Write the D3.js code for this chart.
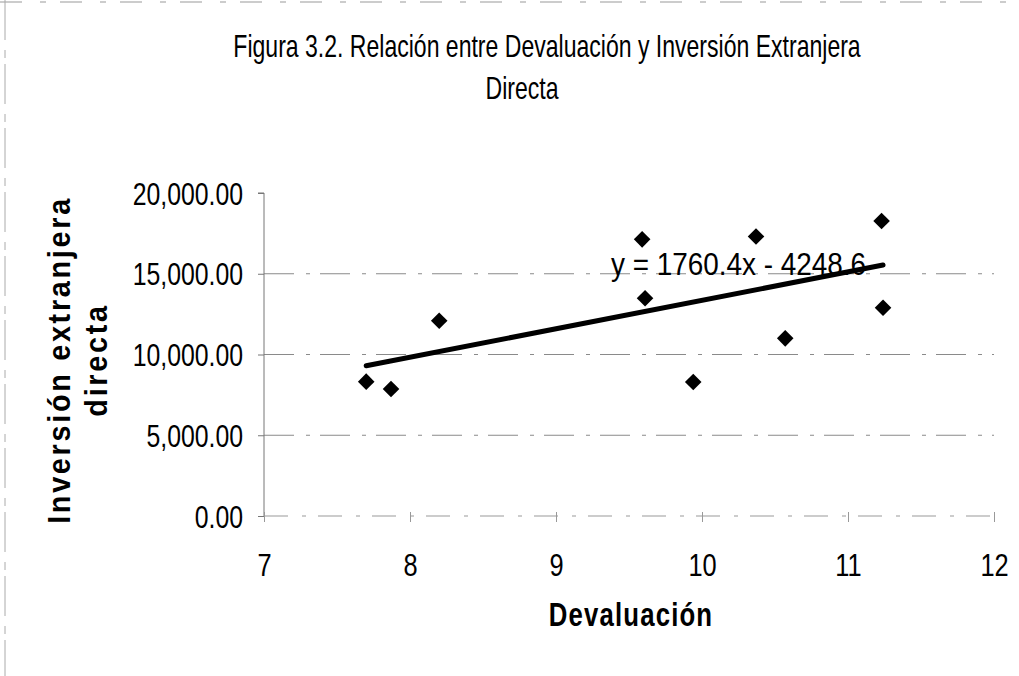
<!DOCTYPE html>
<html>
<head>
<meta charset="utf-8">
<script src="https://cdn.jsdelivr.net/npm/d3@7"></script>
<style>
  html, body { margin: 0; padding: 0; background: #fff; }
  svg { display: block; }
  text { fill: #000; }
</style>
</head>
<body>
<div id="chart"></div>
<script>
// data
const devaluacion = [7.70, 7.87, 8.20, 9.59, 9.61, 9.94, 10.37, 10.57, 11.23, 11.24];
const inversion   = [8320, 7860, 12090, 17130, 13480, 8300, 17310, 11000, 18270, 12900];
const xTicks = [7, 8, 9, 10, 11, 12];
const yTicks = [0, 5000, 10000, 15000, 20000];
const slope = 1760.4, intercept = -4248.6;
const titleLines = ["Figura 3.2. Relación entre Devaluación y Inversión Extranjera", "Directa"];
const yTitleLines = ["Inversión extranjera", "directa"];
const xTitle = "Devaluación";

const width = 1019, height = 676;
const font = "'Liberation Sans Narrow', 'Arial Narrow', 'Liberation Sans', Arial, sans-serif";

const svg = d3.select("#chart").append("svg")
    .attr("width", width).attr("height", height)
    .attr("viewBox", [0, 0, width, height]);

const x = d3.scaleLinear().domain([7, 12]).range([264, 994]);
const y = d3.scaleLinear().domain([0, 20000]).range([516, 193]);

// condensed text: draw at (px,py) squeezed horizontally
function label(parent, px, py, str, size, sx, anchor, bold) {
  return parent.append("text")
      .attr("transform", `translate(${px},${py}) scale(${sx},1)`)
      .attr("text-anchor", anchor || "start")
      .attr("font-family", font).attr("font-size", size)
      .attr("font-weight", bold ? "bold" : "normal")
      .text(str);
}

// scanned frame edges
svg.append("line").attr("x1", 0).attr("x2", width).attr("y1", 2).attr("y2", 2)
   .attr("stroke", "#999").attr("stroke-width", 1).attr("stroke-dasharray", "22,18,6,14");
svg.append("line").attr("x1", 5).attr("x2", 5).attr("y1", 0).attr("y2", height)
   .attr("stroke", "#aaa").attr("stroke-width", 1).attr("stroke-dasharray", "40,10,8,6");

// title
label(svg, 547, 57, titleLines[0], 32, 0.72, "middle");
label(svg, 522, 99, titleLines[1], 32, 0.72, "middle");

// gridlines
svg.append("g").selectAll("line").data(yTicks.filter(d => d > 0 && d < 20000)).join("line")
    .attr("x1", x(7)).attr("x2", x(12))
    .attr("y1", d => y(d)).attr("y2", d => y(d))
    .attr("stroke", "#8a8a8a").attr("stroke-width", 1)
    .attr("stroke-dasharray", "30,12,4,10");

// y axis
const yAxis = svg.append("g")
    .attr("transform", `translate(${x(7)},0)`)
    .call(d3.axisLeft(y).tickValues(yTicks).tickSize(6).tickFormat(d3.format(",.2f")));
yAxis.select(".domain").attr("stroke", "#777").attr("d", `M-6,${y(20000)}H0V${y(0)}`);
yAxis.selectAll(".tick line").attr("stroke", "#777");
yAxis.selectAll(".tick text")
    .attr("x", null).attr("dy", null)
    .attr("transform", "translate(-21,11) scale(0.8,1)")
    .attr("font-family", font).attr("font-size", 31).attr("fill", "#000");

// x axis
const xAxis = svg.append("g")
    .attr("transform", `translate(0,${y(0)})`)
    .call(d3.axisBottom(x).tickValues(xTicks).tickSize(6).tickFormat(d3.format("d")));
xAxis.select(".domain").attr("stroke", "#999").attr("stroke-dasharray", "24,14,4,12")
    .attr("d", `M${x(7)},0H${x(12)}`);
xAxis.selectAll(".tick line").attr("stroke", "#999").attr("y1", -4).attr("y2", 6);
xAxis.selectAll(".tick text")
    .attr("y", null).attr("dy", null)
    .attr("transform", "translate(0,60) scale(0.82,1)")
    .attr("font-family", font).attr("font-size", 31).attr("fill", "#000");

// axis titles
label(svg, x(9.5) + 2, 626, xTitle, 33, 0.78, "middle", true).attr("letter-spacing", 1.5);

const yt = svg.append("g").attr("transform", "translate(0,360) rotate(-90)");
yTitleLines.forEach((t, i) => {
  label(yt, 0, 70 + i * 37, t, 32, 0.9, "middle", true).attr("letter-spacing", 3);
});

// trendline
const xs = d3.extent(devaluacion);
svg.append("path")
    .datum(xs.map(v => [v, slope * v + intercept]))
    .attr("fill", "none").attr("stroke", "#000").attr("stroke-width", 5)
    .attr("stroke-linecap", "round")
    .attr("d", d3.line().x(d => x(d[0])).y(d => y(d[1])));

// points
const diamond = d3.symbol().type(d3.symbolDiamond2 || d3.symbolDiamond).size(175);
svg.append("g").selectAll("path").data(devaluacion.map((v, i) => [v, inversion[i]])).join("path")
    .attr("transform", d => `translate(${x(d[0])},${y(d[1])})`)
    .attr("d", diamond)
    .attr("fill", "#000");

// equation label
label(svg, 611, 275, `y = ${slope}x - ${Math.abs(intercept)}`, 31, 0.9);
</script>
</body>
</html>
